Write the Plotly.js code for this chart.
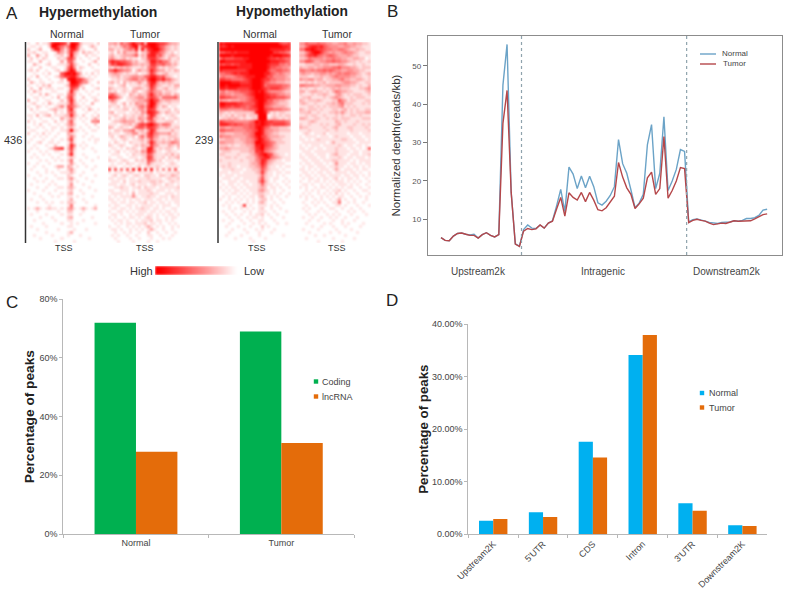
<!DOCTYPE html>
<html><head><meta charset="utf-8">
<script src="https://cdn.plot.ly/plotly-3.0.1.min.js"></script>
<style>html,body{margin:0;padding:0;background:#fff}#c{width:788px;height:597px}.hm image{filter:blur(0.8px)}</style>
</head><body><div id="c"></div>
<script>
const hyperNormal=["100201138998729983111102","011010029975359962001310","200130004884148851100020","112001100153148420312101","300410200112039310020110","020102100021267401001002","110030010003056200100130","003100120011137310002001","010020001100158402100100","120200100120269711000011","001001020006898963010201","010300100125778852101010","200010010002089977531100","031011001011029986441002","100102130000138873100100","020030111011017640200012","103110001100028310010100","010020310011046301001001","001101001030157200200110","300100110002048301010021","012001031011137310100300","100210100124166421011000","020100012311058200103101","001011100201046300010010","110301230111238310200102","010010001003124201010131","201001100201036100100445","001020010010135200010020","100101001101023101001001","011000101001139210100110","200102010010032100010000","001010100100025200100100","010001001001037100001011","100120011010015100100010","001000100200028401010000","010100012567037200100100","100010100110026100000010","001001010001038100100000","010100001010012100010001","000010100101025001000100","100100010000014100100000","001001000133032010010010","010000100010024100000100","000100101001113100100000","100010000100021001000010","001000100011024100010000","000101001000012010000100","010000010100014000100000","000100100011023100001000","100001000100012001000010","001000010001023000100000","000010001010011010000100","010001000000013000100000","000100101001022100010000","000000010000015000000010","101310121101034101310130","000100000010022000100000","010000100001011001000000","000010001000023000000100","001000000100011000100000","000001000001001010000010","010000100000011000000000","000100000010000100010000","000000100000013000000000","001000001000010001000000","000010000001000000001000","000000000100000100000000"];
const hyperTumor=["334264579768399987764332","212135468926789986532121","331213454818378997532121","120314222402258875421201","231123334613278856312321","342123121102267753213112","687766542311248867553121","476887653323237755644231","213232321112146631212210","568654430242248643312132","234321211201137521231111","122312234433568865632101","011212345534379976855321","231203121242158842323211","110123011121248632112133","321112102332137521231121","212012113201246433122110","564211032132258534233132","876420122344257642555563","353100112233469763233222","122013021433269842112111","211202111245379731320110","101112202134277621112021","230111011214388752132112","112102112123158621011210","201123122143267321201121","012234333124146411122201","111012231367689753554111","320121102566477642232122","102213345123148621111311","211101224412268543334121","120132112035267431112221","011012101123136321212132","102101021112148522323543","210121001213227431113213","011010212102288312122102","101201011214387411012110","011100102112265211121312","100110011101276211202123","211012100212165312011101","010110211011152111101210","111001010120121121011111","706050608090708030405060","101110121011112011011112","012012101210221102211321","110111011011121111012112","011102011121112212101211","111011012011101211021101","001121101120211101111112","110011101011121011101011","011110103011112110011101","101011114101121101110211","110101010110111011010111","011011011011201101101011","101100110101111010111001","011011010112110110100110","100110101011101101011010","011010010111011010101101","101001011010121010010110","010110100101112011010100","001010110111201101001010","100100101010131010100101","011010010101013100100100","001001010010020010010010","010100100100011001000100","001000010010001000101000","000100001000010010000000"];
const hypoNormal=["989999999999999999997667","878989999999999999999887","999999999999999998888877","667787888899999999776654","999989999999999998999887","576667778899999987767655","998888888999999998887765","767767788889999987775545","999999888889999986655443","877777777899999975566554","556678788899999886545433","454445667888999866444432","776655556789998775544433","999988877789998654433322","998999988889998566666554","887888777789998767776543","453445566678989754444322","554434445678999876654433","776655444567999887766654","433233344567899866443321","998888776666899765432221","887767766567899654333321","555444445566799766555443","321212222223899841212211","212131223122299901212122","122323212112299912321212","765554444456989877666654","888767665566889876777765","443344445566898653332221","665554444556798544332222","332223334456998543221111","544433333456897643332211","223332233445798653222111","443332223445998765422211","222121122334889765321111","334322222234789654321111","122211122233778543211111","221111211123578976321101","112212111222467885432111","211111121122458743211011","111211111123358632111100","121211011122347521101011","011121110112236421110100","111011101111237311011011","101110111111125211010100","011101101111136210110010","100111011011147310100101","010110101101125211010010","101011010111123201101001","010101101011134210100100","001011010101122110101001","010100101011023101010010","100101010101012201001000","001010100101023100100100","010100017010011101010000","000101010101012001001000","010010001010011100100010","001001010010112010010000","000100100101101001000100","010010010010011000100000","000100001001010100010010","001000100010002010000000","000010001000101000100000","000100000100010001000000","001000010000010000000100","000001000010000100000000","000000000001000000000000"];
const hypoTumor=["446555655443344533433221","335788786544433443322111","558898776554455432232211","224689975434334544321122","335778654565433343221111","223544443445443322332201","446653344556554432212112","112223323322233211211211","322332334445564443321222","554454556565443344332211","343323344343454554432123","222112232234544443322112","433442331223345332233212","112121223122223443321122","554443322333443332212113","212112112123232221112234","331233221213543322111123","211121223211342121222112","122311112123432112122211","321222321112264312211122","232112111223245222111212","111221212122234121211111","321222121112212312121122","222311211122324212122233","112122112111212112212111","332112211212212221111222","111232111111321211121111","211211121211231111211212","322111112112311122111121","111211111211211112111112","012101112011111101110111","101111011101211110111011","110101211111112211011101","011111111013111111101111","101011101111121011011010","110110110111211101101016","011101111111211110110111","101110111012311101110112","110111011011121011011101","011011101112211110101111","101101110101411101101011","010110111011211010110101","110101011101310111010110","011010110110111101101001","101101011011110110110101","010110101101201011010010","100101101010111010101001","011010010101011101010010","101001011010101011001001","001010100101120100100110","010100101010201010010001","101010010101011001001010","001001010010130100100010","010010101001150010100100","001001000100110100010001","010100010011001001001000","001000101000100010100100","000101000101010001000010","010010010010100100010000","000100100001001000100000","001000001010001010000100","000010010001000100001000","010000100000100001000000","000100000010010000010000","000001001000000100000000","001000000001000000100000","000000100000001000000000"];
const scaleLevels=[9,8,7,6,5,4,3,2,1,0];

const depthNormal=[5.2,4.5,4.4,5.6,6.3,6.4,6.1,5.9,6.1,5.1,6.0,6.5,5.8,5.4,6.0,45,55.6,17,3.6,3.0,7.3,8.5,7.7,7.6,8.5,7.7,9.0,9.6,13.5,17.8,12,23.6,21.8,18,21.3,18.2,21.2,18.5,14.3,13.7,14.7,16.2,18.5,30.8,24.5,22,17.7,13,14.2,16.5,29.5,34.7,18,22,36.7,17.5,20,23,28.2,27.7,9.3,9.9,10.1,9.7,9.5,9.2,9.0,8.9,9.2,9.2,9.3,9.6,9.5,9.7,10.2,10.2,10.4,11,12.4,12.6];
const depthTumor=[5.2,4.5,4.4,5.6,6.3,6.4,6.1,5.8,5.8,5.1,6.0,6.5,5.8,5.4,6.0,35,43.6,17,3.5,2.9,6.9,7.6,7.3,7.5,8.5,7.7,9.0,9.5,12.7,15.7,10.8,16.9,15.7,15,17,14.6,17,15,12.5,12.2,13,14.5,16,24.8,21,18.2,16.5,12.8,14,15.5,20.8,22.3,16.5,18,31.6,15.5,17.5,20,23.5,23.2,9.1,9.7,10,9.7,9.5,9,8.6,8.8,9,8.9,9.2,9.6,9.5,9.5,9.6,9.6,10.1,10.6,11.2,11.4];
const regionBoundaries=[19.5,59.5];
const binIndex=depthNormal.map((_,i)=>i);

const rnaGroups=["Normal","Tumor"];
const codingPct=[72,69];
const lncPct=[28,31];

const featureNames=["Upstream2K","5'UTR","CDS","Intron","3'UTR","Downstream2K"];
const featureNormal=[2.6,4.2,17.6,34.1,5.9,1.7];
const featureTumor=[2.9,3.3,14.6,37.9,4.5,1.6];

const W=788,H=597;
const fx=p=>p/W, fy=p=>1-p/H;
const dx=(a,b)=>[fx(a),fx(b)], dy=(top,bot)=>[fy(bot),fy(top)];
const toZ=rows=>rows.map(r=>r.split('').map(Number));
const reds=[[0,'#ffffff'],[1,'#ff0000']];
const SANS='Arial, Liberation Sans, sans-serif';
const GREEN='#00b050',ORANGE='#e46c0a',CYAN='#00b0f0';

const hm=(rows,n)=>({type:'heatmap',z:toZ(rows),xaxis:'x'+n,yaxis:'y'+n,colorscale:reds,zmin:0,zmax:9,showscale:false,zsmooth:false,hoverinfo:'skip'});
const data=[hm(hyperNormal,''),hm(hyperTumor,2),hm(hypoNormal,3),hm(hypoTumor,4),
 {type:'heatmap',z:[scaleLevels],xaxis:'x5',yaxis:'y5',colorscale:reds,zmin:0,zmax:9,showscale:false,zsmooth:'best',hoverinfo:'skip'},
 {type:'scatter',mode:'lines',name:'Normal',x:binIndex,y:depthNormal,xaxis:'x6',yaxis:'y6',line:{color:'#6ba3c7',width:1.4},showlegend:false},
 {type:'scatter',mode:'lines',name:'Tumor',x:binIndex,y:depthTumor,xaxis:'x6',yaxis:'y6',line:{color:'#b5474a',width:1.4},showlegend:false},
 {type:'bar',name:'Coding',x:rnaGroups,y:codingPct,xaxis:'x7',yaxis:'y7',marker:{color:GREEN},showlegend:false},
 {type:'bar',name:'lncRNA',x:rnaGroups,y:lncPct,xaxis:'x7',yaxis:'y7',marker:{color:ORANGE},showlegend:false},
 {type:'bar',name:'Normal',x:featureNames,y:featureNormal,xaxis:'x8',yaxis:'y8',marker:{color:CYAN},showlegend:false},
 {type:'bar',name:'Tumor',x:featureNames,y:featureTumor,xaxis:'x8',yaxis:'y8',marker:{color:ORANGE},showlegend:false}
];

const hidden=(d,extra)=>Object.assign({domain:d,visible:false,fixedrange:true},extra||{});
const tfont={family:SANS,size:9,color:'#444'};
const axC='#b8b8b8';
const layout={width:W,height:H,margin:{l:0,r:0,t:0,b:0},paper_bgcolor:'#fff',plot_bgcolor:'rgba(0,0,0,0)',barmode:'group',bargroupgap:0,bargap:0.43,showlegend:false,font:{family:SANS},
 xaxis:hidden(dx(27,100)),yaxis:hidden(dy(42,243),{autorange:'reversed'}),
 xaxis2:hidden(dx(108,180)),yaxis2:hidden(dy(42,243),{autorange:'reversed'}),
 xaxis3:hidden(dx(219,291)),yaxis3:hidden(dy(42,243),{autorange:'reversed'}),
 xaxis4:hidden(dx(299,371)),yaxis4:hidden(dy(42,243),{autorange:'reversed'}),
 xaxis5:hidden(dx(155,241)),yaxis5:hidden(dy(266,275)),
 xaxis6:{domain:dx(428,782),range:[-3.15,82.6],showticklabels:false,ticks:'',showgrid:false,zeroline:false,showline:true,mirror:true,linecolor:'#8c8c8c',linewidth:1.2,anchor:'y6'},
 yaxis6:{domain:dy(36,255),range:[0.68,57.8],tick0:10,dtick:10,ticks:'outside',ticklen:4,tickcolor:'#777',showgrid:false,zeroline:false,showline:true,mirror:true,linecolor:'#8c8c8c',linewidth:1.2,anchor:'x6',tickfont:{family:SANS,size:8,color:'#555'},
   title:{text:'Normalized depth(reads/kb)',standoff:9,font:{family:SANS,size:11.5,color:'#333'}}},
 xaxis7:{domain:dx(63.3,354),type:'category',tickson:'boundaries',ticks:'outside',ticklen:3,tickcolor:axC,showline:true,linecolor:axC,showgrid:false,zeroline:false,anchor:'y7',tickfont:tfont},
 yaxis7:{domain:dy(299.3,534),range:[0,80],tick0:0,dtick:20,ticksuffix:'%',ticks:'outside',ticklen:3,tickcolor:axC,showline:true,linecolor:axC,showgrid:false,zeroline:false,anchor:'x7',tickfont:tfont,
   title:{text:'Percentage of peaks',standoff:1,font:{family:SANS,size:13.7,color:'#222',weight:'bold'}}},
 xaxis8:{domain:dx(468.3,767.3),type:'category',tickson:'boundaries',ticks:'outside',ticklen:3,tickcolor:axC,showline:true,linecolor:axC,showgrid:false,zeroline:false,anchor:'y8',tickangle:-45,tickfont:tfont},
 yaxis8:{domain:dy(324,534.3),range:[0,40],tick0:0,dtick:10,tickformat:'.2f',ticksuffix:'%',ticks:'outside',ticklen:3,tickcolor:axC,showline:true,linecolor:axC,showgrid:false,zeroline:false,anchor:'x8',tickfont:tfont,
   title:{text:'Percentage of peaks',standoff:0,font:{family:SANS,size:13.3,color:'#222',weight:'bold'}}},
 shapes:[],annotations:[]
};
regionBoundaries.forEach(b=>layout.shapes.push({type:'line',xref:'x6',yref:'y6',x0:b,x1:b,y0:0.68,y1:57.8,line:{color:'#8fa3ad',width:1.2,dash:'dot'}}));
layout.shapes.push({type:'line',xref:'paper',yref:'paper',x0:fx(25.5),x1:fx(25.5),y0:fy(42),y1:fy(243),line:{color:'#333',width:1.5}});
layout.shapes.push({type:'line',xref:'paper',yref:'paper',x0:fx(218),x1:fx(218),y0:fy(42),y1:fy(243),line:{color:'#333',width:1.5}});
layout.shapes.push({type:'line',xref:'paper',yref:'paper',x0:fx(700),x1:fx(716),y0:fy(54),y1:fy(54),line:{color:'#6ba3c7',width:1.4}});
layout.shapes.push({type:'line',xref:'paper',yref:'paper',x0:fx(700),x1:fx(716),y0:fy(64),y1:fy(64),line:{color:'#b5474a',width:1.4}});
const swatch=(x,y,c)=>layout.shapes.push({type:'rect',xref:'paper',yref:'paper',x0:fx(x-2.2),x1:fx(x+2.2),y0:fy(y-2.2),y1:fy(y+2.2),fillcolor:c,line:{width:0}});
swatch(316,381.5,GREEN);swatch(316,396.5,ORANGE);swatch(702,393,CYAN);swatch(702,407.5,ORANGE);
const txt=(s,x,y,size,opt)=>layout.annotations.push(Object.assign({text:s,xref:'paper',yref:'paper',x:fx(x),y:fy(y),xanchor:'center',yanchor:'middle',showarrow:false,font:{family:SANS,size:size,color:'#222'}},opt||{}));
const col=(c,w,f)=>({font:{family:f||SANS,size:w,color:c}});
txt('A',12,13,17,col('#222',17));txt('B',392,12,17,col('#222',17));txt('C',12,302,17,col('#222',17));txt('D',392,300,17,col('#222',17));
txt('Hypermethylation',97.7,12.5,14,{font:{family:SANS,size:14,color:'#222',weight:'bold'}});
txt('Hypomethylation',292,11,13.8,{font:{family:SANS,size:13.8,color:'#222',weight:'bold'}});
[['Normal',67],['Tumor',145],['Normal',259.5],['Tumor',337]].forEach(a=>txt(a[0],a[1],33.5,10.5,col('#333',10.5)));
[64,144.5,257,337].forEach(x=>txt('TSS',x,248,9,col('#333',9)));
txt('436',13,139.5,11,col('#333',11));txt('239',204,139.5,11,col('#333',11));
txt('High',141,271,11,col('#333',11));txt('Low',254,271,11,col('#333',11));
txt('Upstream2k',478,271,10,col('#444',10));txt('Intragenic',603,271,10,col('#444',10));txt('Downstream2k',727,271,10,col('#444',10));
txt('Normal',720,54,8,Object.assign({xanchor:'left'},col('#444',8)));txt('Tumor',721,64,8,Object.assign({xanchor:'left'},col('#444',8)));
txt('Coding',320,381.5,9,Object.assign({xanchor:'left'},col('#444',9)));txt('lncRNA',320,396.5,9,Object.assign({xanchor:'left'},col('#444',9)));
txt('Normal',707,393,9,Object.assign({xanchor:'left'},col('#444',9)));txt('Tumor',707,407.5,9,Object.assign({xanchor:'left'},col('#444',9)));
Plotly.newPlot('c',data,layout,{staticPlot:true,displayModeBar:false});
</script></body></html>
